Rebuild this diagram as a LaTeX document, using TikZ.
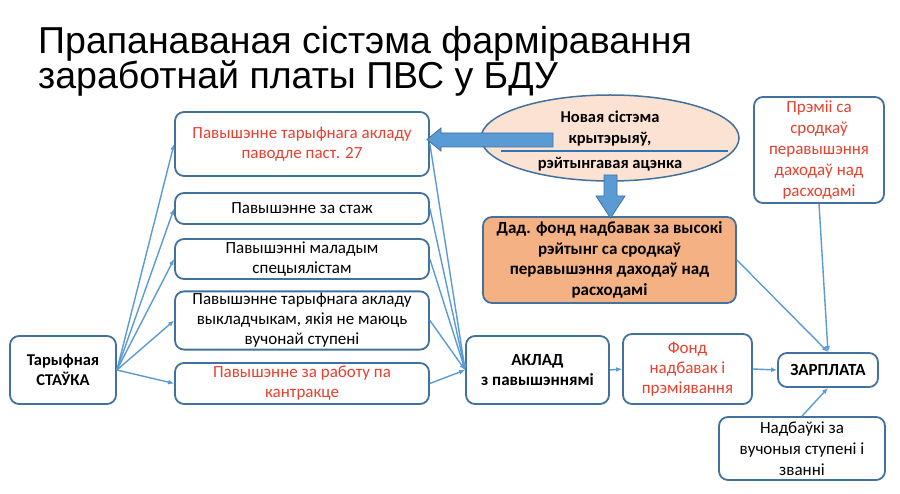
\documentclass[tikz,border=0pt]{standalone}
\usepackage{fontspec}
\setmainfont{Carlito}
\newfontfamily\titlefont{Liberation Sans}
\usetikzlibrary{arrows.meta,shapes.geometric}
\definecolor{bord}{HTML}{41719C}
\definecolor{connblue}{HTML}{5B9BD5}
\definecolor{redtxt}{HTML}{E8402E}
\definecolor{peach}{HTML}{FBE2D3}
\definecolor{orng}{HTML}{F4B183}
\definecolor{sepblue}{HTML}{2E75B6}
\begin{document}
\begin{tikzpicture}[x=1pt,y=-1pt,
  box/.style={draw=bord, line width=1.8pt, rounded corners=9pt, fill=white,
    align=center, inner sep=2pt, font=\fontsize{17}{20}\selectfont},
  boldbox/.style={box, font=\bfseries\fontsize{17}{20.5}\selectfont},
  link/.style={draw=connblue, line width=1.4pt, -{Latex[length=6pt,width=5pt]}},
  blockarrow/.style={fill=connblue, draw=bord, line width=0.8pt, line join=miter},
  titletext/.style={anchor=base west, inner sep=0pt, font=\titlefont\fontsize{37.5}{35}\selectfont}
]
\fill[white] (0,0) rectangle (900,494);
\useasboundingbox (0,0) rectangle (900,494);

% title
\node[titletext] (t1) at (38,54) {Прапанаваная сістэма фарміравання};
\node[titletext] (t2) at (38,89) {заработнай платы ПВС у БДУ};

% left column
\node[boldbox, minimum width=106pt, minimum height=68pt, font=\bfseries\fontsize{16.5}{20}\selectfont] (stavka) at (63,370) {Тарыфная\\СТАЎКА};
\node[box, minimum width=254pt, minimum height=64pt, text=redtxt] (b1) at (302,144) {Павышэнне тарыфнага акладу\\паводле паст. 27};
\node[box, minimum width=254pt, minimum height=31pt] (b2) at (302,208.5) {Павышэнне за стаж};
\node[box, minimum width=254pt, minimum height=40pt] (b3) at (302,259) {Павышэнні маладым\\спецыялістам};
\node[box, minimum width=254pt, minimum height=57pt] (b4) at (302,320.5) {Павышэнне тарыфнага акладу\\выкладчыкам, якія не маюць\\вучонай ступені};
\node[box, minimum width=254pt, minimum height=41pt, text=redtxt] (b5) at (302,383.5) {Павышэнне за работу па\\кантракце};

% ellipse
\node[ellipse, draw=bord, line width=1.5pt, fill=peach, minimum width=258pt, minimum height=86pt, inner sep=0pt] (ell) at (610,138) {};
\node[align=center, inner sep=0pt, font=\bfseries\fontsize{16.5}{21}\selectfont] (elltext) at (610,141) {Новая сістэма\\крытэрыяў,\\[4pt]рэйтынгавая ацэнка};
\draw[sepblue, line width=2pt] (501,151) -- (728,151);

% orange box
\node[boldbox, fill=orng, minimum width=253pt, minimum height=86pt] (dad) at (609.5,260) {Дад. фонд надбавак за высокі\\рэйтынг са сродкаў\\перавышэння даходаў над\\расходамі};

% right boxes
\node[box, minimum width=130pt, minimum height=106pt, text=redtxt, font=\fontsize{17}{21}\selectfont] (prem) at (819,150) {Прэміі са\\сродкаў\\перавышэння\\даходаў над\\расходамі};
\node[boldbox, minimum width=143pt, minimum height=68pt] (aklad) at (537.5,370) {АКЛАД\\з павышэннямі};
\node[box, minimum width=129pt, minimum height=70pt, text=redtxt] (fond) at (687.5,369) {Фонд\\надбавак і\\прэміявання};
\node[boldbox, minimum width=100pt, minimum height=34pt] (zarp) at (828,370) {ЗАРПЛАТА};
\node[box, minimum width=166pt, minimum height=63pt, font=\fontsize{17}{21}\selectfont] (nadb) at (802,448.5) {Надбаўкі за\\вучоныя ступені і\\званні};

% block arrows
\draw[blockarrow] (427,139.5) -- (441,128) -- (441,133) -- (553,133) -- (553,147) -- (441,147) -- (441,151) -- cycle;
\draw[blockarrow] (604,175) -- (617,175) -- (617,196) -- (625,196) -- (610.5,218) -- (596,196) -- (604,196) -- cycle;

% connectors from stavka
\foreach \b in {b1,b2,b3,b4,b5}{
  \draw[link] (stavka.east) -- (\b.west);
}
% connectors to aklad
\foreach \b in {b1,b2,b3,b4,b5}{
  \draw[link] (\b.east) -- (aklad.west);
}
\draw[link] (aklad.east) -- (fond.west);
\draw[link] (fond.east) -- (zarp.west);
\draw[link] (dad.east) -- (zarp.north);
\draw[link] (prem.south) -- (zarp.north);
\draw[link] (nadb.north) -- (zarp.south);
\end{tikzpicture}
\end{document}
